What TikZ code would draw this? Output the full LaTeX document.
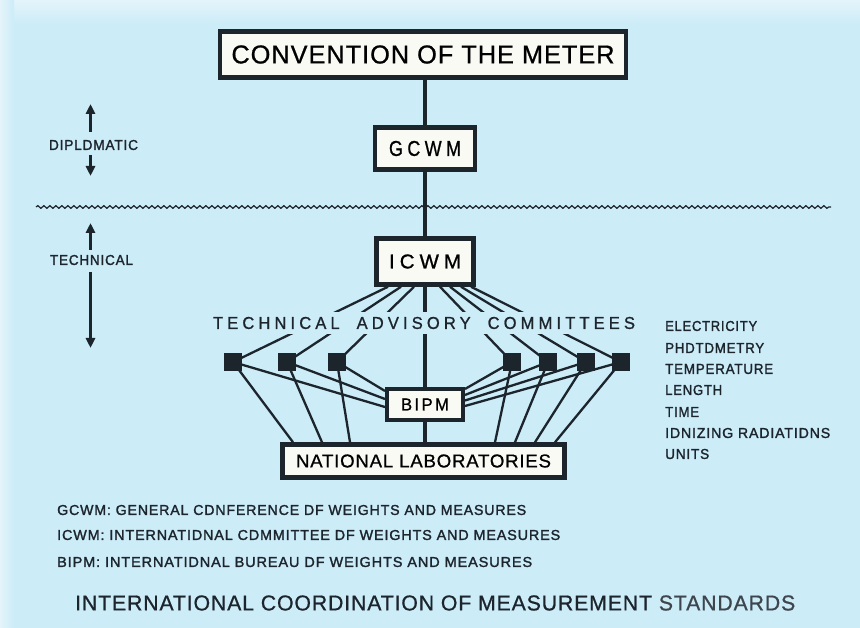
\documentclass[tikz,border=0pt]{standalone}
\usepackage{fontspec}
\setmainfont{Liberation Sans}
\newfontfamily\lsA{Liberation Sans}[LetterSpace=4,FakeBold=0.8]
\newfontfamily\lsW{Liberation Sans}[LetterSpace=25,FakeBold=1]
\newfontfamily\lsM{Liberation Sans}[LetterSpace=14,FakeBold=1]
\newfontfamily\lsS{Liberation Sans}[LetterSpace=6,FakeBold=1.6]
\usetikzlibrary{decorations.pathmorphing,arrows.meta,calc}
\definecolor{bg}{RGB}{204,236,248}
\definecolor{bgtop}{RGB}{228,244,250}
\definecolor{ink}{RGB}{28,36,44}
\definecolor{paper}{RGB}{250,250,244}
\newcommand\fitt[3]{\resizebox{#1pt}{#2pt}{#3}}
\pgfdeclarelayer{back}
\pgfdeclarelayer{lines}
\pgfsetlayers{back,lines,main}
\begin{document}
\begin{tikzpicture}[x=1pt,y=-1pt,
  box/.style={draw=ink, line width=4.5pt, fill=paper, inner sep=0pt},
  lbl/.style={inner sep=0pt, text=ink},
  conn/.style={draw=ink, line width=2.3pt},
  spine/.style={draw=ink, line width=4.5pt},
  sqbox/.style={fill=ink, minimum size=18pt, inner sep=0pt},
  arr/.style={draw=ink, line width=2.6pt, -{Triangle[width=9pt,length=10pt]}},
]
\begin{pgfonlayer}{back}
\fill[bg] (0,0) rectangle (860,628);
\shade[top color=bgtop, bottom color=bg] (0,0) rectangle (860,24);
\shade[left color=bgtop, right color=bg] (0,0) rectangle (14,628);
\end{pgfonlayer}
\useasboundingbox (0,0) rectangle (860,628);

% main boxes
\node[box, minimum width=406pt, minimum height=46pt] (conv) at (423,54.5)
  {\fitt{383}{18}{\lsA CONVENTION OF THE METER}};
\node[box, minimum width=100pt, minimum height=42pt] (gcwm) at (425,148.5)
  {\fitt{72}{15}{\lsW GCWM}};
\node[box, minimum width=97pt, minimum height=46pt] (icwm) at (425,261.5)
  {\fitt{72}{14}{\lsW ICWM}};
\node[lbl, fill=bg, inner xsep=3pt, inner ysep=5pt] (tac) at (424,323)
  {\fitt{422}{12}{\lsW TECHNICAL\hspace{0.5em} ADVISORY\hspace{0.5em} COMMITTEES}};
\node[box, line width=4pt, minimum width=76pt, minimum height=31pt] (bipm) at (425,404.5)
  {\fitt{48}{12}{\lsM BIPM}};
\node[box, minimum width=282pt, minimum height=33pt] (nl) at (423.5,461)
  {\fitt{255}{13}{\lsA NATIONAL LABORATORIES}};

% committee squares
\node[sqbox] (s1) at (233,362) {};
\node[sqbox] (s2) at (287,362) {};
\node[sqbox] (s3) at (337,362) {};
\node[sqbox] (s4) at (512,362) {};
\node[sqbox] (s5) at (548,362) {};
\node[sqbox] (s6) at (586,362) {};
\node[sqbox] (s7) at (621,362) {};

% side labels
\node[lbl] (dip) at (93.5,145) {\fitt{89}{10}{\lsS DIPLDMATIC}};
\node[lbl] (tech) at (91.5,260) {\fitt{83}{10}{\lsS TECHNICAL}};
\coordinate (dA) at (90.5,132);
\coordinate (dTop) at (90.5,104);
\coordinate (dB) at (90.5,155);
\coordinate (dBot) at (90.5,176);
\coordinate (tA) at (90.5,250);
\coordinate (tTop) at (90.5,223);
\coordinate (tB) at (90.5,272);
\coordinate (tBot) at (90.5,348);
\draw[arr] (dA) -- (dTop);
\draw[arr] (dB) -- (dBot);
\draw[arr] (tA) -- (tTop);
\draw[arr] (tB) -- (tBot);

% committee list
\node[lbl, anchor=west] (c1) at (665,326) {\fitt{92}{10}{\lsS ELECTRICITY}};
\node[lbl, anchor=west] (c2) at (665,348) {\fitt{99}{10}{\lsS PHDTDMETRY}};
\node[lbl, anchor=west] (c3) at (665,369) {\fitt{108}{10}{\lsS TEMPERATURE}};
\node[lbl, anchor=west] (c4) at (665,390) {\fitt{57}{10}{\lsS LENGTH}};
\node[lbl, anchor=west] (c5) at (665,412) {\fitt{34}{10}{\lsS TIME}};
\node[lbl, anchor=west] (c6) at (665,433) {\fitt{165}{10}{\lsS IDNIZING RADIATIDNS}};
\node[lbl, anchor=west] (c7) at (665,454) {\fitt{44}{10}{\lsS UNITS}};

% legend
\node[lbl, anchor=west] (g1) at (57,510) {\fitt{469}{10}{\lsS GCWM: GENERAL CDNFERENCE DF WEIGHTS AND MEASURES}};
\node[lbl, anchor=west] (g2) at (57,535) {\fitt{503}{10}{\lsS ICWM: INTERNATIDNAL CDMMITTEE DF WEIGHTS AND MEASURES}};
\node[lbl, anchor=west] (g3) at (57,562) {\fitt{475}{10}{\lsS BIPM: INTERNATIDNAL BUREAU DF WEIGHTS AND MEASURES}};

% title
\node[lbl, anchor=west] (title) at (75,603) {\fitt{720}{15}{\lsA INTERNATIONAL COORDINATION OF MEASUREMENT \textcolor{ink!85}{STANDARDS}}};

\begin{pgfonlayer}{lines}
% wave separator
\coordinate (wL) at (36,207);
\coordinate (wR) at (831,207);
\draw[ink, line width=1.2pt, decorate, decoration={snake,segment length=6pt,amplitude=1.3pt}] (wL) -- (wR);
% spine
\draw[spine] (gcwm.north |- conv.south) -- (gcwm.north);
\draw[spine] (gcwm.south) -- (icwm.north);
\draw[spine] (icwm.south) -- (bipm.north);
\draw[spine] (bipm.south) -- (bipm.south |- nl.north);
% ICWM to committees
\draw[conn] ($(icwm.south)+(-37,0)$) -- (s1.center);
\draw[conn] ($(icwm.south)+(-24,0)$) -- (s2.center);
\draw[conn] ($(icwm.south)+(-11,0)$) -- (s3.center);
\draw[conn] ($(icwm.south)+(15,0)$) -- (s4.center);
\draw[conn] ($(icwm.south)+(25,0)$) -- (s5.center);
\draw[conn] ($(icwm.south)+(36,0)$) -- (s6.center);
\draw[conn] ($(icwm.south)+(46,0)$) -- (s7.center);
% committees to BIPM
\draw[conn] (s1.center) -- ($(bipm.west)+(0,2.5)$);
\draw[conn] (s2.center) -- ($(bipm.west)+(0,-5.5)$);
\draw[conn] (s3.center) -- ($(bipm.west)+(0,-13.5)$);
\draw[conn] (s4.center) -- ($(bipm.east)+(0,-15.5)$);
\draw[conn] (s5.center) -- ($(bipm.east)+(0,-9.5)$);
\draw[conn] (s6.center) -- ($(bipm.east)+(0,-4)$);
\draw[conn] (s7.center) -- ($(bipm.east)+(0,1.5)$);
% committees to national laboratories
\draw[conn] (s1.center) -- ($(nl.north)+(-130.5,0)$);
\draw[conn] (s2.center) -- ($(nl.north)+(-101.5,0)$);
\draw[conn] (s3.center) -- ($(nl.north)+(-73.5,0)$);
\draw[conn] (s4.center) -- ($(nl.north)+(71.5,0)$);
\draw[conn] (s5.center) -- ($(nl.north)+(91.5,0)$);
\draw[conn] (s6.center) -- ($(nl.north)+(111.5,0)$);
\draw[conn] (s7.center) -- ($(nl.north)+(131.5,0)$);
\end{pgfonlayer}
\end{tikzpicture}
\end{document}
